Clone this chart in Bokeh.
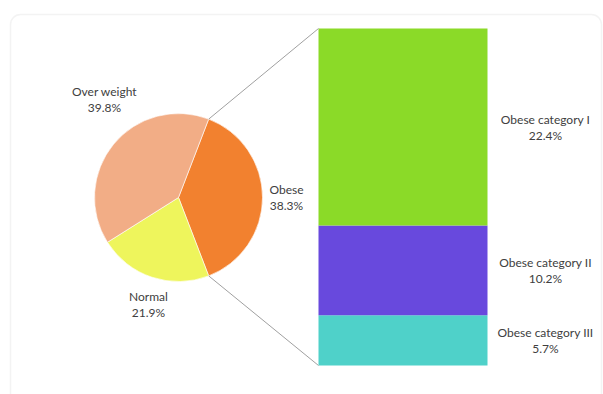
import math
from bokeh.plotting import figure
from bokeh.models import ColumnDataSource, Range1d, BoxAnnotation
from bokeh.core.properties import value
from bokeh.embed import file_html
from bokeh.resources import INLINE

# ---- data ----
pie_labels = ["Obese", "Normal", "Over weight"]
pie_values = [38.3, 21.9, 39.8]
pie_colors = ["#F2812F", "#EEF55C", "#F2AD86"]

bar_labels = ["Obese category III", "Obese category II", "Obese category I"]
bar_values = [5.7, 10.2, 22.4]
bar_colors = ["#4FD1C9", "#6849DD", "#8BDA28"]

W, H = 603, 394
p = figure(width=W, height=H, output_backend="svg", toolbar_location=None,
           x_range=Range1d(0, W), y_range=Range1d(0, H), min_border=0)
p.axis.visible = False
p.grid.visible = False
p.outline_line_color = None
p.background_fill_color = "white"
p.border_fill_color = "white"

# frame
frame = BoxAnnotation(left=10, right=601, top=H - 14, bottom=-20,
                      fill_alpha=0, line_color="#d8d8d8", line_width=1.5,
                      border_radius=10)
p.add_layout(frame)

FONT = value("Lato")
TXT = "#404040"
FS = "12px"

# ---- pie ----
cx, cy, r = 178, H - 197, 84
total = sum(pie_values)
theta = 90 - pie_values[0] / total * 360 / 2  # clockwise from 12 o'clock
starts, ends, thetas = [], [], []
for v in pie_values:
    t0 = theta
    t1 = theta + v / total * 360
    starts.append(math.radians(90 - t0))
    ends.append(math.radians(90 - t1))
    thetas.append((t0, t1))
    theta = t1
pie_src = ColumnDataSource(dict(start=starts, end=ends, color=pie_colors))
p.wedge(x=cx, y=cy, radius=r, start_angle="start", end_angle="end",
        direction="clock", fill_color="color", line_color="#ffffff",
        line_width=1, line_alpha=0.6, source=pie_src)

# ---- bar ----
bx0, bx1 = 318, 487
by_bottom = H - 365
k = 337 / sum(bar_values)
bottoms, tops = [], []
acc = 0
for v in bar_values:
    bottoms.append(by_bottom + acc * k)
    acc += v
    tops.append(by_bottom + acc * k)
bar_src = ColumnDataSource(dict(bottom=bottoms, top=tops, color=bar_colors))
p.quad(left=bx0, right=bx1, bottom="bottom", top="top", fill_color="color",
       line_color=None, source=bar_src)

# connectors
t_a, t_b = thetas[0]
pa = (cx + r * math.sin(math.radians(t_a)), cy + r * math.cos(math.radians(t_a)))
pb = (cx + r * math.sin(math.radians(t_b)), cy + r * math.cos(math.radians(t_b)))
p.segment(x0=[pa[0], pb[0]], y0=[pa[1], pb[1]], x1=[bx0, bx0],
          y1=[tops[-1], bottoms[0]], line_color="#a0a0a0", line_width=1)

# ---- labels ----
pie_lx = [286, 148, 104]
pie_ly = [H - 197, H - 304, H - 99]
lines1 = pie_labels
lines2 = ["%.1f%%" % v for v in pie_values]
gap = 8
p.text(x=pie_lx, y=[y + gap for y in pie_ly], text=lines1, text_font=FONT,
       text_font_size=FS, text_color=TXT, text_align="center", text_baseline="middle")
p.text(x=pie_lx, y=[y - gap for y in pie_ly], text=lines2, text_font=FONT,
       text_font_size=FS, text_color=TXT, text_align="center", text_baseline="middle")

bar_lx = [545] * 3
bar_ly = [(b + t) / 2 for b, t in zip(bottoms, tops)]
p.text(x=bar_lx, y=[y + gap for y in bar_ly], text=bar_labels, text_font=FONT,
       text_font_size=FS, text_color=TXT, text_align="center", text_baseline="middle")
p.text(x=bar_lx, y=[y - gap for y in bar_ly], text=["%.1f%%" % v for v in bar_values],
       text_font=FONT, text_font_size=FS, text_color=TXT, text_align="center",
       text_baseline="middle")

open("out.html", "w").write(file_html(p, INLINE))
